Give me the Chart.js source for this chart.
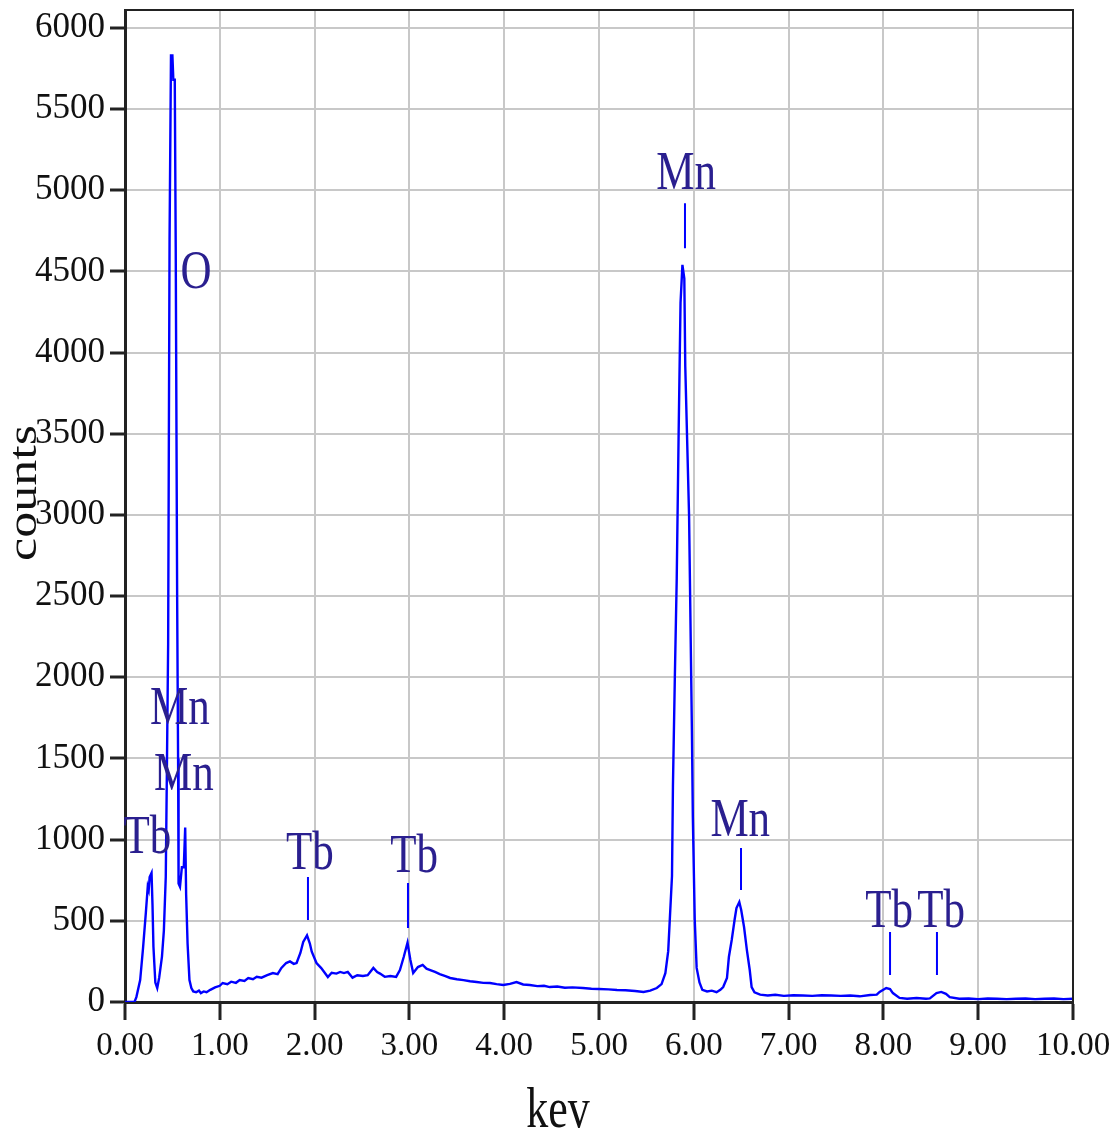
<!DOCTYPE html>
<html>
<head>
<meta charset="utf-8">
<script src="https://cdn.jsdelivr.net/npm/chart.js@4/dist/chart.umd.min.js"></script>
<style>
  html, body { margin: 0; padding: 0; background: #fff; }
  #wrap { width: 1111px; height: 1136px; position: relative; }
</style>
</head>
<body>
<div id="wrap"><canvas id="eds"></canvas></div>
<script>
// spectrum (keV / counts)
var energy = [
  0.00, 0.05, 0.10, 0.12, 0.16, 0.19, 0.22, 0.24, 0.25, 0.26, 0.28, 0.29, 0.30, 0.32, 0.34, 0.36, 0.39, 0.41, 0.43, 0.44,
  0.455, 0.47, 0.485, 0.50, 0.51, 0.525, 0.535, 0.55, 0.56, 0.565, 0.58, 0.60, 0.62, 0.635, 0.645, 0.66, 0.68, 0.70, 0.72, 0.75,
  0.78, 0.80, 0.83, 0.86, 0.90, 0.95, 1.00, 1.03, 1.08, 1.12, 1.17, 1.21, 1.26, 1.30, 1.35, 1.39, 1.44, 1.50, 1.56, 1.61,
  1.65, 1.70, 1.74, 1.78, 1.81, 1.85, 1.88, 1.92, 1.95, 1.97, 2.02, 2.07, 2.14, 2.18, 2.23, 2.27, 2.31, 2.35, 2.40, 2.45,
  2.51, 2.56, 2.62, 2.66, 2.69, 2.74, 2.80, 2.86, 2.90, 2.94, 2.98, 3.01, 3.04, 3.09, 3.14, 3.18, 3.22, 3.27, 3.32, 3.38,
  3.43, 3.50, 3.57, 3.64, 3.71, 3.78, 3.85, 3.92, 3.99, 4.06, 4.13, 4.20, 4.27, 4.35, 4.42, 4.48, 4.56, 4.64, 4.72, 4.83,
  4.92, 5.00, 5.10, 5.19, 5.28, 5.38, 5.47, 5.54, 5.61, 5.66, 5.70, 5.73, 5.77, 5.78, 5.80, 5.82, 5.84, 5.86, 5.88, 5.90,
  5.91, 5.95, 5.98, 5.99, 6.01, 6.03, 6.06, 6.09, 6.14, 6.19, 6.24, 6.28, 6.31, 6.35, 6.37, 6.40, 6.43, 6.45, 6.48, 6.50,
  6.53, 6.56, 6.59, 6.61, 6.64, 6.70, 6.78, 6.86, 6.95, 7.05, 7.15, 7.25, 7.35, 7.45, 7.55, 7.65, 7.75, 7.86, 7.93, 7.96,
  8.03, 8.07, 8.10, 8.17, 8.25, 8.35, 8.45, 8.49, 8.56, 8.61, 8.66, 8.70, 8.80, 8.90, 9.00, 9.10, 9.20, 9.30, 9.40, 9.50,
  9.60, 9.70, 9.80, 9.90, 10.00
];
var counts = [
  0, 0, 0, 30, 135, 330, 550, 710, 690, 770, 795, 600, 340, 120, 86, 148, 280, 440, 770, 1320,
  2200, 4700, 5830, 5830, 5680, 5680, 4650, 2500, 1500, 730, 710, 830, 830, 1075, 660, 360, 135, 86, 65, 60,
  70, 55, 65, 60, 75, 90, 100, 117, 110, 125, 118, 135, 130, 148, 140, 155, 150, 165, 178, 172,
  210, 240, 250, 235, 240, 302, 370, 410, 360, 310, 240, 209, 154, 180, 175, 185, 178, 185, 150, 165,
  160, 165, 210, 185, 175, 155, 160, 155, 197, 277, 365, 260, 178, 215, 228, 205, 197, 185, 172, 160,
  148, 140, 135, 128, 123, 118, 117, 110, 105, 112, 123, 108, 105, 98, 100, 92, 95, 88, 90, 86,
  82, 80, 78, 74, 72, 68, 62, 70, 86, 110, 178, 313, 776, 1330, 2000, 2610, 3500, 4305, 4540, 4455,
  3915, 3000, 1670, 1135, 505, 210, 120, 75, 65, 70, 60, 75, 92, 148, 277, 382, 505, 579, 616, 567,
  462, 320, 197, 92, 60, 45, 40, 45, 38, 42, 40, 38, 42, 40, 38, 40, 35, 43, 45, 62,
  86, 80, 55, 25, 20, 25, 20, 22, 55, 62, 50, 30, 20, 22, 18, 22, 20, 18, 20, 22,
  18, 20, 22, 18, 20
];

var xTicks = [0, 1, 2, 3, 4, 5, 6, 7, 8, 9, 10];
var yTicks = [0, 500, 1000, 1500, 2000, 2500, 3000, 3500, 4000, 4500, 5000, 5500, 6000];

// element labels (text baseline in keV / counts)
var peakNames  = ['O', 'Mn', 'Mn', 'Tb', 'Tb', 'Tb', 'Mn', 'Mn', 'Tb', 'Tb'];
var peakKeV    = [0.75, 0.58, 0.62, 0.237, 1.95, 3.05, 5.92, 6.49, 8.06, 8.61];
var peakCounts = [4396, 1712, 1305, 917, 819, 800, 5006, 1022, 462, 462];

// short marker ticks under the labels
var markerKeV  = [1.93, 2.985, 5.907, 6.498, 8.07, 8.565];
var markerTop  = [770, 733, 4919, 948, 431, 431];
var markerLow  = [505, 456, 4642, 690, 166, 166];

var BLUE = '#0000ff';
var INK = '#2a1f8f';
var SERIF = "'Liberation Serif', 'DejaVu Serif', serif";

var spectrum = energy.map(function (e, i) { return { x: e, y: counts[i] }; });

var datasets = [{
  data: spectrum,
  borderColor: BLUE,
  borderWidth: 2.4,
  pointRadius: 0,
  tension: 0,
  fill: false
}];
markerKeV.forEach(function (k, i) {
  datasets.push({
    data: [{ x: k, y: markerTop[i] }, { x: k, y: markerLow[i] }],
    borderColor: BLUE,
    borderWidth: 2,
    pointRadius: 0,
    fill: false
  });
});

// stretched serif text, like the original export
function tallText(ctx, txt, x, y, size, sy) {
  ctx.save();
  ctx.translate(x, y);
  ctx.scale(1, sy);
  ctx.font = size + 'px ' + SERIF;
  ctx.fillText(txt, 0, 0);
  ctx.restore();
}

var edsDeco = {
  id: 'edsDeco',
  afterDatasetsDraw: function (chart) {
    var ctx = chart.ctx, xs = chart.scales.x, ys = chart.scales.y, a = chart.chartArea;

    // frame top + right
    ctx.save();
    ctx.strokeStyle = '#222';
    ctx.lineWidth = 2;
    ctx.beginPath();
    ctx.moveTo(a.left, a.top);
    ctx.lineTo(a.right, a.top);
    ctx.lineTo(a.right, a.bottom);
    ctx.stroke();
    ctx.restore();

    ctx.save();
    ctx.fillStyle = INK;
    ctx.textAlign = 'center';
    ctx.textBaseline = 'alphabetic';
    peakNames.forEach(function (n, i) {
      tallText(ctx, n, xs.getPixelForValue(peakKeV[i]), ys.getPixelForValue(peakCounts[i]), 43, 1.3);
    });
    ctx.restore();
  },
  afterDraw: function (chart) {
    var ctx = chart.ctx;
    ctx.save();
    ctx.fillStyle = '#111';
    ctx.textAlign = 'center';
    ctx.textBaseline = 'alphabetic';
    tallText(ctx, 'kev', 558, 1127, 44, 1.3);

    // y title, rotated
    ctx.translate(36, 493);
    ctx.rotate(-Math.PI / 2);
    ctx.scale(1.3, 1);
    ctx.font = '40px ' + SERIF;
    ctx.fillText('counts', 0, 0);
    ctx.restore();
  }
};

new Chart(document.getElementById('eds'), {
  type: 'line',
  data: { datasets: datasets },
  plugins: [edsDeco],
  options: {
    responsive: true,
    maintainAspectRatio: false,
    animation: false,
    layout: { padding: { top: 10, right: 38, left: 0, bottom: 0 } },
    plugins: { legend: { display: false }, tooltip: { enabled: false } },
    scales: {
      x: {
        type: 'linear',
        min: 0,
        max: 10,
        afterBuildTicks: function (s) { s.ticks = xTicks.map(function (v) { return { value: v }; }); },
        afterFit: function (s) { s.height = 134; s.paddingLeft = 0; s.paddingRight = 0; },
        ticks: {
          autoSkip: false,
          maxRotation: 0,
          padding: 7,
          color: '#111',
          font: { family: SERIF, size: 33 },
          callback: function (v) { return Number(v).toFixed(2); }
        },
        grid: { color: '#c8c8c8', lineWidth: 2, tickColor: '#222', tickWidth: 3, tickLength: 18 },
        border: { color: '#222', width: 3 }
      },
      y: {
        type: 'linear',
        min: 0,
        max: 6110,
        afterBuildTicks: function (s) { s.ticks = yTicks.map(function (v) { return { value: v }; }); },
        afterFit: function (s) { s.width = 125; s.paddingTop = 0; s.paddingBottom = 0; },
        ticks: {
          padding: 5,
          color: '#111',
          font: { family: SERIF, size: 35 },
          callback: function (v) { return String(v); }
        },
        grid: { color: '#c8c8c8', lineWidth: 2, tickColor: '#222', tickWidth: 3, tickLength: 15 },
        border: { color: '#222', width: 3 }
      }
    }
  }
});
</script>
</body>
</html>
